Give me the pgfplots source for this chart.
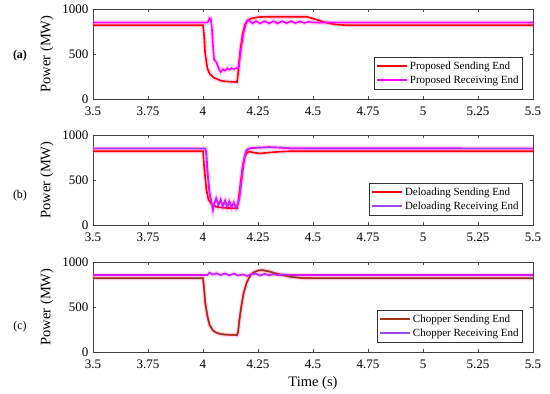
\documentclass[border=0pt]{standalone}
\usepackage{pgfplots}
\usepackage{pgfplotstable}
\pgfplotsset{compat=1.18}
\usepackage{fontspec}
\setmainfont{Liberation Serif}
\definecolor{mag}{RGB}{255,0,255}
\definecolor{vio}{RGB}{150,70,240}
\definecolor{brn}{RGB}{125,62,22}
\definecolor{brnleg}{RGB}{165,55,25}
\definecolor{halo}{RGB}{255,140,225}

\pgfplotstableread{
x y
3.5 820
4.0 820
4.005 700
4.01 500
4.02 340
4.03 280
4.05 235
4.08 205
4.1 196
4.155 188
4.16 300
4.17 550
4.18 720
4.19 820
4.2 868
4.22 895
4.25 910
4.3 914
4.47 914
4.5 895
4.55 855
4.6 828
4.65 820
5.5 820
}\tabAs
\pgfplotstableread{
x y
3.5 850
4.02 850
4.025 870
4.03 900
4.035 895
4.04 800
4.045 600
4.05 440
4.06 410
4.065 380
4.075 320
4.08 300
4.09 330
4.1 315
4.11 340
4.12 325
4.13 345
4.14 330
4.15 342
4.16 340
4.165 420
4.175 600
4.185 750
4.195 840
4.205 878
4.215 860
4.225 840
4.24 865
4.26 840
4.28 865
4.30 840
4.32 865
4.34 840
4.36 865
4.38 842
4.40 865
4.42 843
4.44 862
4.46 845
4.48 858
4.5 850
5.5 850
}\tabAr
\pgfplotstableread{
x y
3.5 820
4.0 820
4.005 650
4.015 400
4.025 280
4.04 230
4.06 202
4.1 190
4.155 186
4.16 250
4.17 450
4.18 650
4.19 760
4.2 805
4.21 815
4.23 805
4.26 795
4.3 805
4.35 815
4.4 820
5.5 820
}\tabBs
\pgfplotstableread{
x y
3.5 850
4.01 850
4.015 800
4.02 600
4.03 350
4.04 230
4.045 170
4.05 230
4.06 295
4.07 220
4.08 280
4.09 210
4.1 270
4.11 200
4.12 260
4.13 195
4.14 250
4.15 190
4.16 250
4.165 300
4.175 500
4.185 700
4.195 820
4.205 845
4.22 855
4.3 865
4.35 860
4.4 852
5.5 850
}\tabBr
\pgfplotstableread{
x y
3.5 820
4.0 820
4.005 700
4.01 550
4.02 400
4.03 300
4.045 240
4.06 215
4.08 200
4.1 193
4.155 188
4.16 230
4.165 350
4.175 520
4.185 660
4.2 780
4.215 850
4.23 885
4.25 905
4.27 910
4.3 895
4.35 860
4.4 835
4.45 822
4.5 820
5.5 820
}\tabCs
\pgfplotstableread{
x y
3.5 855
4.02 855
4.03 880
4.045 860
4.06 875
4.08 855
4.1 872
4.12 852
4.14 870
4.16 850
4.18 862
4.2 845
4.22 865
4.24 870
4.26 850
4.28 868
4.3 852
4.32 865
4.34 855
4.36 862
4.4 855
5.5 855
}\tabCr

\pgfplotsset{
 myax/.style={
  scale only axis, width=440pt, height=90pt,
  xmin=3.5, xmax=5.5, ymin=0, ymax=1000,
  xtick={3.5,3.75,4,4.25,4.5,4.75,5,5.25,5.5},
  xticklabels={3.5,3.75,4,4.25,4.5,4.75,5,5.25,5.5},
  ytick={0,500,1000}, yticklabels={0,500,1000},
  tick align=inside, major tick length=3pt,
  tick style={black!70, line width=0.5pt},
  axis line style={black!75, line width=0.6pt},
  ticklabel style={font=\fontsize{13}{13}\selectfont, inner sep=0.5pt},
  xticklabel style={yshift=-7pt},
  yticklabel style={xshift=-4pt},
  ylabel={Power (MW)},
  ylabel style={font=\fontsize{14.5}{15}\selectfont, at={(axis description cs:-0.105,0.5)}, anchor=center},
  legend style={at={(axis description cs:0.977,0.11)}, anchor=south east,
    font=\fontsize{11}{11}\selectfont, draw=black!80,
    inner sep=2pt, row sep=1pt, cells={anchor=west}},
  legend image code/.code={\draw[line width=1.8pt, #1, line width=1.8pt] (0pt,0pt) -- (30pt,0pt);},
  legend cell align=left,
 },
 hal/.style={halo, line width=4.5pt, opacity=0.35, forget plot},
}

\begin{document}
\begin{tikzpicture}
\useasboundingbox (0,0) rectangle (550pt,-394pt);

\begin{axis}[myax, at={(93pt,-9pt)}, anchor=north west]
\addplot[hal] table {\tabAs};
\addplot[hal] table {\tabAr};
\addplot[red, line width=1.6pt] table {\tabAs};
\addplot[mag, line width=1.6pt] table {\tabAr};
\legend{Proposed Sending End, Proposed Receiving End}
\end{axis}

\begin{axis}[myax, at={(93pt,-135pt)}, anchor=north west]
\addplot[hal] table {\tabBs};
\addplot[hal] table {\tabBr};
\addplot[red, line width=1.6pt, forget plot] table {\tabBs};
\addplot[mag, line width=1.9pt, forget plot] table {\tabBr};
\addplot[vio, line width=0.6pt, forget plot] table {\tabBr};
\addlegendimage{red}
\addlegendentry{Deloading Sending End}
\addlegendimage{vio}
\addlegendentry{Deloading Receiving End}
\end{axis}

\begin{axis}[myax, at={(93pt,-262pt)}, anchor=north west,
  xlabel={Time (s)},
  xlabel style={font=\fontsize{14.5}{15}\selectfont, at={(axis description cs:0.5,-0.35)}, anchor=center}]
\addplot[hal] table {\tabCs};
\addplot[hal] table {\tabCr};
\addplot[red!80, line width=1.9pt, forget plot] table {\tabCs};
\addplot[brn, line width=1.1pt, forget plot] table {\tabCs};
\addplot[mag, line width=1.7pt, forget plot] table {\tabCr};
\addplot[vio, line width=0.8pt, forget plot] table {\tabCr};
\addlegendimage{brnleg}
\addlegendentry{Chopper Sending End}
\addlegendimage{vio}
\addlegendentry{Chopper Receiving End}
\end{axis}

\node[font=\bfseries\fontsize{12}{12}\selectfont] at (20pt,-56pt) {(a)};
\node[font=\fontsize{12}{12}\selectfont] at (20pt,-196pt) {(b)};
\node[font=\fontsize{12}{12}\selectfont] at (20pt,-327pt) {(c)};
\end{tikzpicture}
\end{document}
